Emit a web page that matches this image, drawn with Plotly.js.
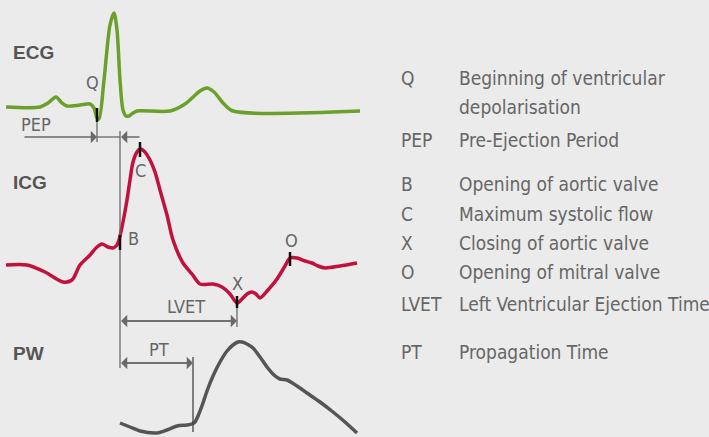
<!DOCTYPE html>
<html><head><meta charset="utf-8">
<script src="https://cdn.plot.ly/plotly-3.0.1.min.js"></script>
<style>html,body{margin:0;padding:0;background:#ebebeb}#c{width:709px;height:437px}</style>
</head><body><div id="c"></div>
<script>
// ECG waveform (time, amplitude in drawing units; y grows downward)
const ecgX = [6, 40, 48, 56, 62, 67, 80, 90, 94, 97, 99, 104, 110, 114, 117, 120, 123, 126, 129, 133, 137, 170, 185, 200, 207, 214, 224, 233, 360];
const ecgY = [107, 107, 103, 97, 103, 106, 105, 104, 108, 118, 119, 80, 25, 13, 30, 80, 110, 116, 116, 113, 111, 111, 104, 91, 88, 92, 104, 111, 111];
// ICG waveform
const icgX = [6, 27, 45, 63, 72, 80, 90, 97, 102, 108, 113, 117, 119, 123, 127, 130, 133, 137, 140, 144, 150, 155, 160, 167, 173, 183, 192, 200, 213, 222, 230, 237, 242, 247, 252, 256, 260, 268, 277, 285, 290, 297, 305, 312, 318, 325, 340, 357];
const icgY = [265, 265, 272, 282, 280, 265, 255, 247, 244, 247, 248, 245, 240, 222, 200, 180, 162, 152, 149, 151, 160, 172, 190, 215, 240, 263, 274, 284, 284, 287, 294, 303, 299, 294, 292, 294, 298, 290, 279, 266, 258, 258, 261, 263, 266, 268, 266, 263];
// PW waveform
const pwX = [120, 130, 140, 157, 167, 177, 187, 192, 195, 198, 203, 207, 213, 220, 227, 233, 238, 242, 247, 253, 260, 267, 274, 280, 287, 297, 307, 320, 333, 345, 357];
const pwY = [423, 427, 431, 433, 430, 426, 425, 424, 422, 416, 403, 391, 376, 362, 351, 345, 342, 342, 344, 348, 357, 367, 375, 379, 380, 386, 393, 402, 412, 422, 433];

// Landmark times
const markQ = 97, markB = 120, markC = 140, markX = 237, markO = 290, markPT = 193;

// Legend entries
const legendKeys = ["Q", "", "PEP", "B", "C", "X", "O", "LVET", "PT"];
const legendTexts = ["Beginning of ventricular", "depolarisation", "Pre-Ejection Period", "Opening of aortic valve", "Maximum systolic flow", "Closing of aortic valve", "Opening of mitral valve", "Left Ventricular Ejection Time", "Propagation Time"];
const legendRows = [78, 107, 140, 184, 214, 243, 272, 304, 352];

// Channel titles
const channelNames = ["ECG", "ICG", "PW"];
const channelRows = [52, 182, 353];

const grey = '#6a6a6a';
const legFont = {family: '"DejaVu Sans Condensed", sans-serif', size: 19, color: '#666'};
const lblFont = {family: '"DejaVu Sans Condensed", sans-serif', size: 18, color: '#666'};

const traces = [
  {x: ecgX, y: ecgY, mode: 'lines', line: {color: '#6ba02c', width: 3.5, shape: 'spline', smoothing: 0.8}, hoverinfo: 'skip'},
  {x: icgX, y: icgY, mode: 'lines', line: {color: '#c0123d', width: 3.5, shape: 'spline', smoothing: 0.8}, hoverinfo: 'skip'},
  {x: pwX, y: pwY, mode: 'lines', line: {color: '#555555', width: 3.5, shape: 'spline', smoothing: 0.8}, hoverinfo: 'skip'}
];

function vline(x, y0, y1, color, w) {
  return {type: 'line', xref: 'x', yref: 'y', x0: x, x1: x, y0: y0, y1: y1, line: {color: color, width: w}, layer: 'above'};
}
function hline(x0, x1, y) {
  return {type: 'line', xref: 'x', yref: 'y', x0: x0, x1: x1, y0: y, y1: y, line: {color: grey, width: 1.3}, layer: 'below'};
}
const shapes = [
  vline(markQ, 109, 142, grey, 1.3),
  vline(markB, 131, 368, grey, 1.3),
  vline(markX, 296, 327, grey, 1.3),
  vline(markPT, 357, 432, '#444', 1.3),
  hline(markQ, markB, 137),
  vline(markQ, 108, 122, '#111', 2.5),
  vline(markC, 142, 157, '#111', 2.5),
  vline(markB, 235, 250, '#111', 2.5),
  vline(markX, 296, 308, '#111', 2.5),
  vline(markO, 252, 266, '#111', 2.5)
];

function arrow(tx, x, y) {
  return {x: x, y: y, ax: tx, ay: y, xref: 'x', yref: 'y', axref: 'x', ayref: 'y', text: '', showarrow: true,
    arrowhead: 1, arrowsize: 1.6, arrowwidth: 1.3, arrowcolor: grey, standoff: 0, startstandoff: 0};
}
function label(t, x, y, font, anchor) {
  return {x: x, y: y, xref: 'x', yref: 'y', text: t, showarrow: false, font: font, xanchor: anchor || 'center', yanchor: 'middle'};
}

const annotations = [
  arrow(23, markQ, 137),
  arrow(141, markB + 1, 137),
  arrow(markX - 2, markB + 1, 321),
  arrow(markB + 2, markX, 321),
  arrow(markPT - 2, markB + 1, 363),
  arrow(markB + 2, markPT, 363),
  label('Q', 92, 82, lblFont),
  label('PEP', 36, 124, lblFont),
  label('C', 140, 170, lblFont),
  label('B', 126, 238, lblFont, 'left'),
  label('X', 237, 283, lblFont),
  label('O', 291, 240, lblFont),
  label('LVET', 186, 306, lblFont),
  label('PT', 159, 349, lblFont)
];
channelNames.forEach((n, i) => annotations.push(label('<b>' + n + '</b>', 11, channelRows[i],
  {family: '"Liberation Sans", Arial, sans-serif', size: 19, color: '#555'}, 'left')));
legendRows.forEach((r, i) => {
  if (legendKeys[i]) annotations.push(label(legendKeys[i], 399, r, legFont, 'left'));
  annotations.push(label(legendTexts[i], 457, r, legFont, 'left'));
});

const layout = {
  width: 709, height: 437,
  margin: {l: 0, r: 0, t: 0, b: 0},
  paper_bgcolor: '#ebebeb', plot_bgcolor: '#ebebeb',
  showlegend: false,
  xaxis: {range: [0, 709], visible: false, fixedrange: true},
  yaxis: {range: [437, 0], visible: false, fixedrange: true},
  shapes: shapes, annotations: annotations
};
Plotly.newPlot('c', traces, layout, {staticPlot: true, displayModeBar: false});
</script></body></html>
